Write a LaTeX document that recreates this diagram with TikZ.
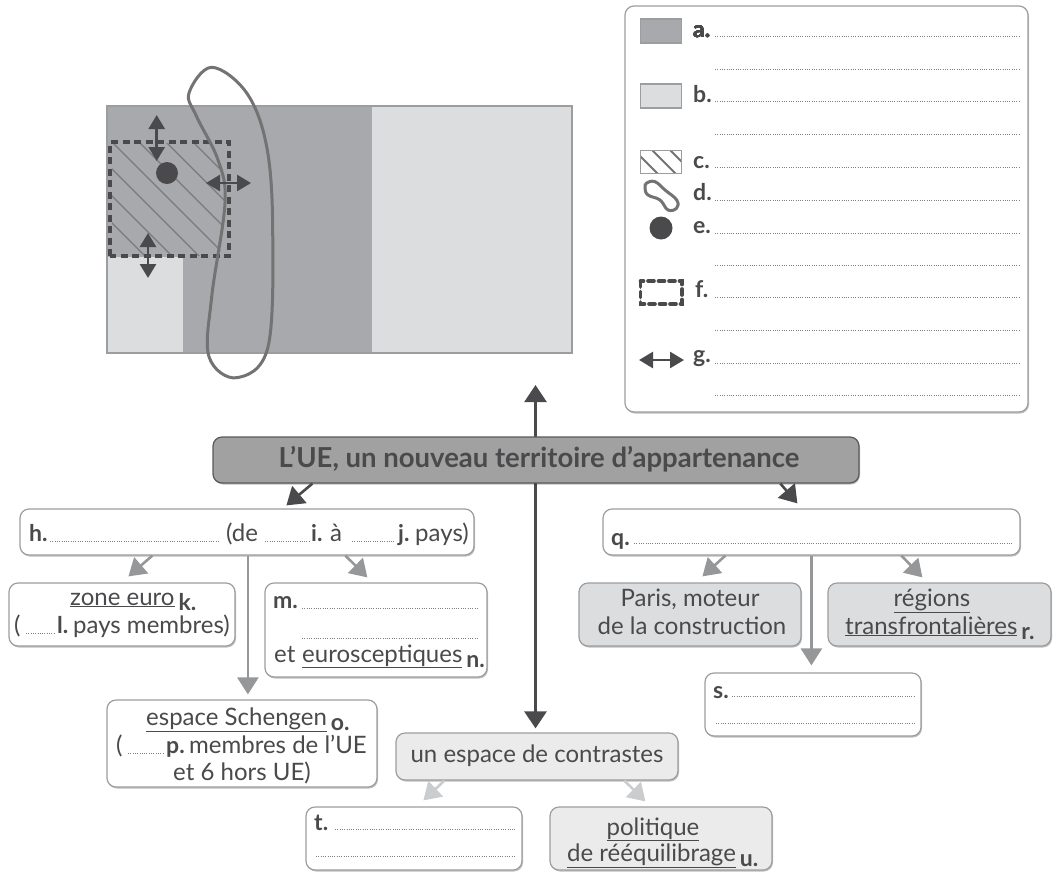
\documentclass[tikz,border=0pt]{standalone}
\usepackage{fontspec}
\setmainfont{Lato}
\usetikzlibrary{arrows.meta,shadows,calc}
\definecolor{ink}{HTML}{4A4A4C}
\definecolor{edge}{HTML}{9C9D9F}
\definecolor{darkz}{HTML}{A8A9AD}
\definecolor{lightz}{HTML}{DCDDDE}
\definecolor{dark}{HTML}{4A4A4C}
\definecolor{midg}{HTML}{969799}
\definecolor{pale}{HTML}{CBCCCE}
\newcommand{\bx}[7]{\node[#6, minimum width={(#4-#2)*1pt}, minimum height={(#5-#3)*1pt}] (#1) at ({(#2+#4)/2},{(#3+#5)/2}) {#7};}
\newcommand{\dl}[3]{\draw[dots] (#1,#3) -- (#2,#3);}
\newcommand{\sub}[1]{\raisebox{-5pt}{\fontsize{23}{24}\selectfont\textbf{#1}}}
\tikzset{
  panel/.style={draw=edge,line width=1.2pt,rounded corners=9pt,fill=white,inner sep=0pt,
     drop shadow={shadow xshift=1pt,shadow yshift=-1.5pt,opacity=.25,fill=black}},
  greyp/.style={panel,fill=lightz},
  palep/.style={panel,fill=#1},
  dots/.style={draw=black!50,line width=.8pt,dash pattern=on .8pt off 1.5pt},
  txt/.style={anchor=base,inner sep=0pt,text=ink,font=\fontsize{24}{26}\selectfont},
  ltxt/.style={anchor=base west,inner sep=0pt,text=ink,font=\fontsize{24}{26}\selectfont},
  bold/.style={ltxt,font=\fontsize{23}{24}\selectfont\bfseries},
  darrow/.style={draw=dark,line width=2.6pt,-{Triangle[length=17pt,width=22pt]}},
  garrow/.style={draw=midg,line width=2.6pt,-{Triangle[length=17pt,width=21pt]}},
  parrow/.style={draw=pale,line width=2.6pt,-{Triangle[length=17pt,width=21pt]}},
  mapdbl/.style={draw=dark,line width=2.6pt,{Triangle[length=14pt,width=16pt]}-{Triangle[length=14pt,width=16pt]}},
  dashb/.style={draw=dark,line width=3.6pt,dash pattern=on 7pt off 4.5pt},
  loopl/.style={draw=black!55,line width=3pt},
  hatchl/.style={draw=black!52,line width=1.1pt}
}
\begin{document}
\begin{tikzpicture}[x=1pt,y=-1pt]
\useasboundingbox (0,0) rectangle (1057,876);
% --- map
\fill[darkz] (107,106) rectangle (372,353);
\fill[lightz] (372,106) rectangle (572,353);
\fill[lightz] (107,257) rectangle (183,353);
\draw[edge,line width=1.8pt] (107,106) rectangle (572,353);
\begin{scope}
\clip (112,143) -- (212,143) -- (218,160) -- (225,203) -- (220,256) -- (112,256) -- cycle;
\foreach \c in {-111,-84,-57,-30,-3,24,51}
  \draw[hatchl] ({100+\c},100) -- ({300+\c},300);
\end{scope}
\draw[dashb] (110,256) -- (110,142) -- (229,142) -- (229,256) -- cycle;
\draw[loopl] plot[smooth cycle,tension=.6] coordinates {(211.7,67.3) (246.7,93) (266.7,146.7) (272.7,230) (268,347) (236.7,377.7) (209,356.7) (211.7,296.7) (225,203) (218,160) (196.7,116.7) (189,93)};
\node[circle,fill=dark,minimum size=22pt,inner sep=0pt] (capital) at (167,173) {};
\coordinate (na) at (156.7,115); \coordinate (nb) at (156.7,161);
\coordinate (ea) at (206,183); \coordinate (eb) at (251,183);
\coordinate (sa) at (148,233); \coordinate (sb) at (148,278);
\draw[mapdbl] (na) -- (nb);
\draw[mapdbl] (ea) -- (eb);
\draw[mapdbl] (sa) -- (sb);
% --- legend
\bx{legend}{625}{6}{1028}{412}{panel}{}
\node[draw=edge,fill=darkz,line width=1.2pt,minimum width=41pt,minimum height=24pt,inner sep=0pt] (swa) at (661,31) {};
\node[draw=edge,fill=lightz,line width=1.2pt,minimum width=41pt,minimum height=24pt,inner sep=0pt] (swb) at (661,96) {};
\begin{scope}
\clip (640.5,150.5) rectangle (681.5,173.5);
\fill[white] (640.5,150.5) rectangle (681.5,173.5);
\foreach \c in {-24,-6,12,30,48}
  \draw[draw=black!55,line width=2pt] ({640+\c-20},130) -- ({640+\c+40},190);
\end{scope}
\node[draw=edge,line width=1.2pt,minimum width=41pt,minimum height=23pt,inner sep=0pt] (swc) at (661,162) {};
\draw[loopl,line width=3pt] plot[smooth cycle,tension=.7] coordinates {(646.7,183) (655,181.7) (665,190) (676.7,200) (676.7,208) (668,210) (660,200) (648,195) (645,188)};
\node[circle,fill=dark,minimum size=23pt,inner sep=0pt] (swe) at (661,228) {};
\draw[dark,line width=3.6pt,dash pattern=on 6pt off 4.5pt,line cap=round] (640.5,281) rectangle (682,304);
\coordinate (ga) at (639,360); \coordinate (gb) at (684,360);
\draw[mapdbl] (ga) -- (gb);
\foreach \y in {36,69,101,134,167,200,233,265,297,330,363,395} \dl{715}{1019}{\y}
\node[bold] (la) at (693,37) {a.};
\node[bold] (lb) at (693,102) {b.};
\node[bold] (lc) at (693,168) {c.};
\node[bold] (ld) at (693,200) {d.};
\node[bold] (le) at (693,233) {e.};
\node[bold] (lf) at (695,297) {f.};
\node[bold] (lg) at (693,362) {g.};
% --- central arrows (behind main box)
\coordinate (upt) at (535.5,385);
\bx{contrast}{396}{733}{678}{780}{palep=black!8}{}
\draw[darrow] (535.5,460) -- (upt);
\draw[darrow] (535.5,460) -- ($(contrast.north -| upt)+(0,-4)$);
% --- main
\bx{main}{213}{437}{859}{483}{panel,draw=black!65,fill=black!37}{}
\node[txt,font=\fontsize{27.5}{30}\selectfont\bfseries] (mt) at (539,467) {L’UE, un nouveau territoire d’appartenance};
% --- boxes
\bx{hb}{20}{509}{474}{555}{panel}{}
\bx{kb}{9}{583}{235}{646}{panel}{}
\bx{mb}{265}{583}{487}{677}{panel}{}
\bx{ob}{107}{700}{377}{787}{panel}{}
\bx{tb}{306}{807}{522}{870}{panel}{}
\bx{ub}{550}{807}{772}{870}{palep=black!8}{}
\bx{qb}{603}{509}{1020}{555}{panel}{}
\bx{pb}{579}{583}{801}{646}{greyp}{}
\bx{rb}{828}{583}{1051}{646}{greyp}{}
\bx{sb}{705}{673}{921}{736}{panel}{}
% --- arrows
\draw[darrow] ($(main.south west)+(100,0)$) -- ($(hb.north west)+(267,-3)$);
\draw[darrow] ($(main.south west)+(568,0)$) -- ($(qb.north west)+(195,-5)$);
\draw[garrow] ($(hb.south west)+(133,0)$) -- ($(kb.north west)+(120,-6)$);
\draw[garrow] ($(hb.south west)+(326,0)$) -- ($(mb.north west)+(103,-5)$);
\draw[garrow] ($(hb.south west)+(228.5,0)$) -- ($(ob.north west)+(141.5,-5)$);
\draw[garrow] ($(qb.south west)+(123,0)$) -- ($(pb.north west)+(124,-6)$);
\draw[garrow] ($(qb.south west)+(299,0)$) -- ($(rb.north west)+(95,-5)$);
\draw[garrow] ($(qb.south west)+(209,0)$) -- ($(sb.north west)+(107,-7)$);
\draw[parrow] ($(contrast.south west)+(49,0)$) -- ($(tb.north west)+(118,-6)$);
\draw[parrow] ($(contrast.south west)+(229,0)$) -- ($(ub.north west)+(96,-5)$);
% --- h box
\node[bold] (th) at (29,541) {h.};
\dl{50}{220}{541}
\node[ltxt] (tde) at (226,541) {(de};
\dl{265}{309}{541}
\node[bold] (ti) at (311,541) {i.};
\node[ltxt] (ta) at (330,541) {à};
\dl{352}{395}{541}
\node[bold] (tj) at (398,541) {j.};
\node[ltxt] (tpays) at (415,541) {pays)};
% --- k box
\node[ltxt] (tk) at (70,605) {\underline{zone euro}\,\sub{k.}};
\node[ltxt] (tl0) at (14,633) {(};
\dl{26}{54}{633}
\node[bold] (tl) at (57,633) {l.};
\node[ltxt] (tl2) at (73,633) {pays membres)};
% --- m box
\node[bold] (tm) at (273,608) {m.};
\dl{302}{479}{608}
\dl{302}{479}{638}
\node[ltxt] (tet) at (274,662) {et};
\node[ltxt] (tn) at (302,662) {\underline{eurosceptiques}\,\sub{n.}};
% --- o box
\node[ltxt] (to) at (146,725) {\underline{espace Schengen}\,\sub{o.}};
\node[ltxt] (tp0) at (116,753) {(};
\dl{128}{163}{753}
\node[bold] (tp) at (166,753) {p.};
\node[ltxt] (tp2) at (189,753) {membres de l’UE};
\node[txt] (to3) at (242,780) {et 6 hors UE)};
% --- contrast
\node[txt] (tc) at (537,762) {un espace de contrastes};
% --- t box
\node[bold] (tt) at (314,830) {t.};
\dl{335}{516}{829}
\dl{316}{516}{856}
% --- u box
\node[txt] (tu1) at (653,835) {\underline{politique}};
\node[ltxt] (tu2) at (567,861) {\underline{de rééquilibrage}\,\sub{u.}};
% --- q box
\node[bold] (tq) at (611,545) {q.};
\dl{634}{1013}{543}
% --- Paris / regions
\node[txt] (tp1) at (690,606) {Paris, moteur};
\node[txt] (tp3) at (692,634) {de la construction};
\node[txt] (tr1) at (932,606) {\underline{régions}};
\node[ltxt] (tr2) at (845,634) {\underline{transfrontalières}\,\sub{r.}};
% --- s box
\node[bold] (ts) at (713,698) {s.};
\dl{732}{915}{696}
\dl{716}{915}{723}
\end{tikzpicture}
\end{document}
